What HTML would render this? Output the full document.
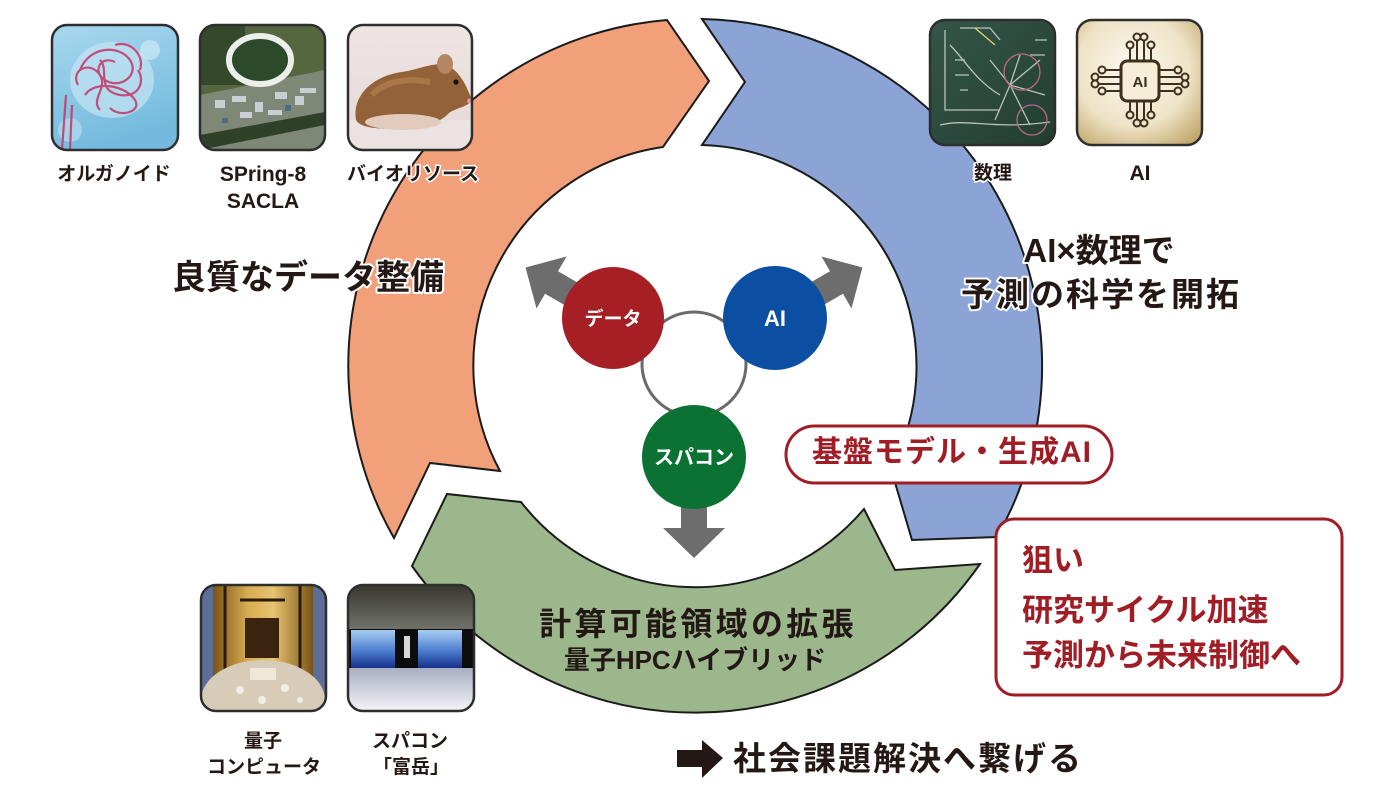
<!DOCTYPE html>
<html><head><meta charset="utf-8">
<style>
html,body{margin:0;padding:0;background:#fff;}
svg{display:block;}
text{font-family:"Liberation Sans","Noto Sans CJK JP",sans-serif;font-weight:700;}
</style></head><body>
<svg width="1400" height="800" viewBox="0 0 1400 800" xmlns="http://www.w3.org/2000/svg">
<defs>
<clipPath id="c1"><rect x="52" y="25" width="126" height="125" rx="15"/></clipPath>
<clipPath id="c2"><rect x="200" y="25" width="125" height="125" rx="15"/></clipPath>
<clipPath id="c3"><rect x="348" y="25" width="124" height="125" rx="15"/></clipPath>
<clipPath id="c4"><rect x="930" y="20" width="125" height="125" rx="15"/></clipPath>
<clipPath id="c5"><rect x="1077" y="20" width="125" height="125" rx="15"/></clipPath>
<clipPath id="c6"><rect x="201" y="585" width="125" height="126" rx="15"/></clipPath>
<clipPath id="c7"><rect x="348" y="585" width="126" height="126" rx="15"/></clipPath>
<linearGradient id="gOrg" x1="0" y1="0" x2="0.3" y2="1"><stop offset="0" stop-color="#a8d8ee"/><stop offset="1" stop-color="#74bade"/></linearGradient>
<linearGradient id="gMouse" x1="0" y1="0" x2="0" y2="1"><stop offset="0" stop-color="#efe4e4"/><stop offset="1" stop-color="#e4d9d8"/></linearGradient>
<radialGradient id="gChip" cx="0.45" cy="0.4" r="0.75"><stop offset="0" stop-color="#fcfaf2"/><stop offset="0.6" stop-color="#eee3c6"/><stop offset="1" stop-color="#bfa468"/></radialGradient>
<linearGradient id="gBoard" x1="0" y1="0" x2="1" y2="1"><stop offset="0" stop-color="#35564a"/><stop offset="1" stop-color="#233d31"/></linearGradient>
<linearGradient id="gGold" x1="0" y1="0" x2="1" y2="0"><stop offset="0" stop-color="#7a5418"/><stop offset="0.35" stop-color="#d8ac50"/><stop offset="0.6" stop-color="#e8c470"/><stop offset="1" stop-color="#7a5418"/></linearGradient>
<linearGradient id="gFtop" x1="0" y1="0" x2="0" y2="1"><stop offset="0" stop-color="#37372f"/><stop offset="1" stop-color="#73746a"/></linearGradient>
<linearGradient id="gFpan" x1="0" y1="0" x2="0" y2="1"><stop offset="0" stop-color="#a8cdf2"/><stop offset="0.55" stop-color="#4d7ed0"/><stop offset="1" stop-color="#16308a"/></linearGradient>
<linearGradient id="gFbot" x1="0" y1="0" x2="0" y2="1"><stop offset="0" stop-color="#a9afc2"/><stop offset="1" stop-color="#f4f4f7"/></linearGradient>
</defs>
<rect width="1400" height="800" fill="#fff"/>

<!-- Ring segments -->
<path d="M394,538 A347,347 0 0 1 667,20 L709,81 L663,147 A221,221 0 0 0 500,471 L430,463 Z" fill="#F1A07A" stroke="#1b1b1b" stroke-width="2"/>
<path d="M702,19 A347,347 0 0 1 997,537 L912,540 L891,469 A221,221 0 0 0 702,145 L745,82 Z" fill="#8BA3D5" stroke="#1b1b1b" stroke-width="2"/>
<path d="M980,564 A347,347 0 0 1 412,566 L447,494 L521,502 A221,221 0 0 0 864,509 L895,570 Z" fill="#9BB78B" stroke="#1b1b1b" stroke-width="2"/>

<!-- Center gray arrows -->
<g fill="#6d6d6d">
<polygon points="30,-13 71,-13 71,-30 101,0 71,30 71,13 30,13" transform="translate(613,318) rotate(210)"/>
<polygon points="30,-13 71,-13 71,-30 101,0 71,30 71,13 30,13" transform="translate(775,318) rotate(-30)"/>
<polygon points="30,-13 71,-13 71,-31 101,0 71,31 71,13 30,13" transform="translate(694,457) rotate(90)"/>
</g>
<circle cx="694" cy="364" r="52" fill="none" stroke="#6a6a6a" stroke-width="3"/>
<circle cx="613" cy="318" r="51" fill="#A51F25"/>
<circle cx="775" cy="318" r="52" fill="#0B4FA3"/>
<circle cx="694" cy="457" r="52" fill="#0B7233"/>
<text x="613" y="325" font-size="19" fill="#fff" text-anchor="middle">データ</text>
<text x="775" y="326" font-size="22" fill="#fff" text-anchor="middle">AI</text>
<text x="694" y="464" font-size="20" fill="#fff" text-anchor="middle">スパコン</text>

<!-- Image 1: organoid -->
<g clip-path="url(#c1)">
<rect x="52" y="25" width="126" height="125" fill="url(#gOrg)"/>
<ellipse cx="112" cy="80" rx="42" ry="38" fill="#c4e4f2" opacity="0.7"/>
<circle cx="150" cy="50" r="10" fill="#d6eef8" opacity="0.6"/>
<circle cx="70" cy="130" r="12" fill="#bfe2f2" opacity="0.6"/>
<g fill="none" stroke="#c43d6d" stroke-width="2.2" opacity="0.9">
<path d="M80,70 C90,45 120,45 130,60 C140,75 120,90 105,80 C92,72 100,55 115,62"/>
<path d="M85,95 C95,80 125,85 135,100 C142,112 120,118 110,108"/>
<path d="M100,60 C110,70 95,90 120,95 C140,98 145,80 138,70"/>
<path d="M78,85 C70,70 90,60 100,75 C108,88 90,100 100,110"/>
<path d="M115,45 C130,40 145,55 140,70"/>
<path d="M66,95 L62,150 M72,105 L70,150"/>
</g>
</g>
<rect x="52" y="25" width="126" height="125" rx="15" fill="none" stroke="#2e2e2e" stroke-width="2.5"/>

<!-- Image 2: SPring-8 -->
<g clip-path="url(#c2)">
<rect x="200" y="25" width="125" height="125" fill="#55673f"/>
<rect x="200" y="25" width="45" height="60" fill="#34492c"/>
<polygon points="200,95 325,70 325,150 200,150" fill="#7f8877"/>
<polygon points="200,135 325,112 325,125 200,150" fill="#2f4128"/>
<ellipse cx="260" cy="60" rx="31" ry="24" fill="#2c4a2a" stroke="#ecefe9" stroke-width="6"/>
<g fill="#c9ced3">
<rect x="215" y="100" width="10" height="8"/><rect x="232" y="96" width="14" height="6"/><rect x="255" y="102" width="8" height="10"/>
<rect x="275" y="92" width="12" height="7"/><rect x="295" y="96" width="9" height="9"/><rect x="240" y="112" width="12" height="6"/>
<rect x="268" y="110" width="14" height="5"/><rect x="300" y="88" width="16" height="5"/>
</g>
<g fill="#4f6a86"><rect x="285" y="105" width="6" height="6"/><rect x="222" y="118" width="6" height="5"/></g>
</g>
<rect x="200" y="25" width="125" height="125" rx="15" fill="none" stroke="#2e2e2e" stroke-width="2.5"/>

<!-- Image 3: mouse -->
<g clip-path="url(#c3)">
<rect x="348" y="25" width="124" height="125" fill="url(#gMouse)"/>
<rect x="348" y="120" width="124" height="30" fill="#ebe3e1"/>
<path d="M356,120 C352,96 372,76 402,72 C422,69 436,60 450,67 C462,74 468,90 472,100 C468,107 456,108 449,113 C440,123 420,130 398,129 C378,129 360,128 356,120 Z" fill="#946238"/>
<path d="M372,95 C385,80 410,78 430,82" fill="none" stroke="#b8844f" stroke-width="6" opacity="0.6"/>
<ellipse cx="403" cy="122" rx="38" ry="8" fill="#e2cbbd"/>
<ellipse cx="445" cy="64" rx="8" ry="10" fill="#b58563"/>
<circle cx="456" cy="82" r="2.6" fill="#111"/>
<ellipse cx="470" cy="101" rx="3" ry="2.5" fill="#d9a0a0"/>
</g>
<rect x="348" y="25" width="124" height="125" rx="15" fill="none" stroke="#2e2e2e" stroke-width="2.5"/>

<!-- Image 4: chalkboard -->
<g clip-path="url(#c4)">
<rect x="930" y="20" width="125" height="125" fill="url(#gBoard)"/>
<g fill="none" stroke="#e6eee6" stroke-width="1.3" opacity="0.75">
<path d="M945,30 L945,110 L1000,110"/>
<path d="M950,45 C965,60 975,80 1000,95"/>
<path d="M955,60 l10,0 M955,75 l14,0 M960,90 l8,0 M1035,40 l12,0 M1030,55 l15,0"/>
<path d="M1010,85 L1040,60 M1010,85 L1045,95 M1010,85 L990,60 M1010,85 L995,120 M1010,85 L1030,125 M1010,85 L1020,55"/>
<path d="M940,125 C970,118 990,130 1050,122"/>
<path d="M960,28 L990,28 L1000,40"/>
</g>
<circle cx="1022" cy="72" r="18" fill="none" stroke="#b86888" stroke-width="1.3"/>
<circle cx="1032" cy="120" r="15" fill="none" stroke="#b86888" stroke-width="1.3"/>
<path d="M975,28 L995,45" stroke="#d8d860" stroke-width="1.3"/>
</g>
<rect x="930" y="20" width="125" height="125" rx="15" fill="none" stroke="#2e2e2e" stroke-width="2.5"/>

<!-- Image 5: AI chip -->
<g clip-path="url(#c5)">
<rect x="1077" y="20" width="125" height="125" fill="url(#gChip)"/>
<g fill="none" stroke="#3d301c" stroke-width="2">
<path d="M1130,62 L1130,48 M1137,62 L1137,40 M1144,62 L1144,40 M1151,62 L1151,48"/>
<path d="M1130,100 L1130,112 M1137,100 L1137,120 M1144,100 L1144,120 M1151,100 L1151,112"/>
<path d="M1121,70 L1105,70 M1121,77 L1098,77 M1121,84 L1098,84 M1121,91 L1105,91"/>
<path d="M1159,70 L1175,70 M1159,77 L1182,77 M1159,84 L1182,84 M1159,91 L1175,91"/>
<circle cx="1130" cy="45" r="3.5"/><circle cx="1137" cy="37" r="3.5"/><circle cx="1144" cy="37" r="3.5"/><circle cx="1151" cy="45" r="3.5"/>
<circle cx="1130" cy="115" r="3.5"/><circle cx="1137" cy="123" r="3.5"/><circle cx="1144" cy="123" r="3.5"/><circle cx="1151" cy="115" r="3.5"/>
<circle cx="1102" cy="70" r="3.5"/><circle cx="1095" cy="77" r="3.5"/><circle cx="1095" cy="84" r="3.5"/><circle cx="1102" cy="91" r="3.5"/>
<circle cx="1178" cy="70" r="3.5"/><circle cx="1185" cy="77" r="3.5"/><circle cx="1185" cy="84" r="3.5"/><circle cx="1178" cy="91" r="3.5"/>
</g>
<rect x="1121" y="61" width="38" height="40" rx="6" fill="#f6eed6" stroke="#3d301c" stroke-width="3"/>
<text x="1140" y="87" font-size="15" fill="#3d301c" text-anchor="middle">AI</text>
</g>
<rect x="1077" y="20" width="125" height="125" rx="15" fill="none" stroke="#2e2e2e" stroke-width="2.5"/>

<!-- Image 6: quantum computer -->
<g clip-path="url(#c6)">
<rect x="201" y="585" width="125" height="126" fill="#5d6f99"/>
<rect x="213" y="585" width="100" height="110" fill="url(#gGold)"/>
<rect x="245" y="618" width="34" height="40" fill="#3a2410"/>
<g stroke="#2b1a08" stroke-width="3"><path d="M225,585 L225,690 M300,585 L300,690 M240,600 L285,600"/></g>
<ellipse cx="263" cy="700" rx="62" ry="40" fill="#d6ccb8"/>
<g fill="#f2eee6"><circle cx="240" cy="690" r="4"/><circle cx="285" cy="688" r="4"/><circle cx="262" cy="700" r="4"/><circle cx="300" cy="700" r="3"/></g>
<rect x="250" y="668" width="26" height="12" fill="#efe8d8"/>
</g>
<rect x="201" y="585" width="125" height="126" rx="15" fill="none" stroke="#2e2e2e" stroke-width="2.5"/>

<!-- Image 7: Fugaku -->
<g clip-path="url(#c7)">
<rect x="348" y="585" width="126" height="46" fill="url(#gFtop)"/>
<rect x="348" y="629" width="126" height="40" fill="#0c0c0c"/>
<rect x="351" y="630" width="44" height="38" fill="url(#gFpan)"/>
<rect x="418" y="630" width="44" height="38" fill="url(#gFpan)"/>
<rect x="404" y="636" width="6" height="22" fill="#d8d8d8"/>
<rect x="348" y="668" width="126" height="43" fill="url(#gFbot)"/>
</g>
<rect x="348" y="585" width="126" height="126" rx="15" fill="none" stroke="#2e2e2e" stroke-width="2.5"/>

<!-- Labels -->
<g fill="#231815" text-anchor="middle" font-size="19">
<text x="114" y="180">オルガノイド</text>
<text x="263" y="181" font-size="21">SPring-8</text>
<text x="263" y="208" font-size="21">SACLA</text>
<text x="413" y="180" stroke="#fff" stroke-width="3" paint-order="stroke">バイオリソース</text>
<text x="993" y="179" stroke="#fff" stroke-width="3" paint-order="stroke">数理</text>
<text x="1140" y="180" font-size="21">AI</text>
<text x="263" y="747">量子</text>
<text x="264" y="773">コンピュータ</text>
<text x="410" y="747">スパコン</text>
<text x="411" y="773">「富岳」</text>
</g>

<!-- Headings -->
<g fill="#231815" stroke="#fff" stroke-width="4" paint-order="stroke" stroke-linejoin="round">
<text x="308" y="289" font-size="34" text-anchor="middle">良質なデータ整備</text>
<text x="1099" y="262" font-size="33" text-anchor="middle">AI×数理で</text>
<text x="1101" y="306" font-size="33" text-anchor="middle" letter-spacing="2">予測の科学を開拓</text>
</g>
<g fill="#231815" text-anchor="middle">
<text x="698" y="635" font-size="32" letter-spacing="3.3">計算可能領域の拡張</text>
<text x="695" y="669" font-size="26">量子HPCハイブリッド</text>
</g>

<!-- Bottom arrow + text -->
<polygon points="677,750 702,750 702,740 723,758 702,778 702,767 677,767" fill="#231815"/>
<text x="733" y="770" font-size="33" letter-spacing="2" fill="#231815">社会課題解決へ繋げる</text>

<!-- Red boxes -->
<rect x="786" y="426" width="326" height="57" rx="28.5" fill="#fff" stroke="#A11D26" stroke-width="3"/>
<text x="952" y="462" font-size="30" text-anchor="middle" fill="#A11D26" letter-spacing="1">基盤モデル・生成AI</text>
<rect x="996" y="519" width="346" height="176" rx="18" fill="#fff" stroke="#A11D26" stroke-width="3"/>
<g fill="#A11D26" font-size="31">
<text x="1022" y="571">狙い</text>
<text x="1022" y="621">研究サイクル加速</text>
<text x="1022" y="666">予測から未来制御へ</text>
</g>
</svg>
</body></html>
